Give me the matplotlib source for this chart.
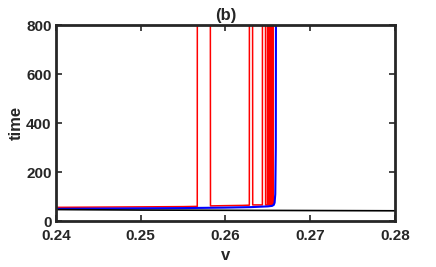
import numpy as np
import matplotlib.pyplot as plt

plt.rcParams['font.family'] = ['Liberation Sans', 'DejaVu Sans']
plt.rcParams['font.weight'] = 'bold'

# red curve: baseline with blow-ups (values above 800 are off-chart)
red_v = [0.2400, 0.2450, 0.2500, 0.2550, 0.25668, 0.25670,
         0.25820, 0.25824, 0.2600, 0.2620, 0.26282, 0.26284,
         0.26318, 0.26322, 0.26436, 0.26438, 0.26471, 0.26474,
         0.26496, 0.26498, 0.26505, 0.26507, 0.26513, 0.26515,
         0.26521, 0.26523, 0.26529, 0.26531, 0.26537, 0.26539,
         0.26545, 0.26547, 0.26553, 0.26555, 0.26561, 0.26563,
         0.26568]
red_t = [56, 57, 58, 59, 60, 2000,
         2000, 62, 63, 64, 65, 2000,
         2000, 66, 66, 2000, 2000, 66,
         66, 2000, 2000, 66, 66, 2000,
         2000, 66, 66, 2000, 2000, 66,
         66, 2000, 2000, 66, 66, 2000,
         2000]

blue_v = [0.2400, 0.2450, 0.2500, 0.2550, 0.2600, 0.2630, 0.2650,
          0.2655, 0.2657, 0.2658, 0.26588, 0.26594, 0.2660]
blue_t = [50, 51, 52, 53, 55, 57, 60, 62, 66, 75, 110, 300, 2000]

black_v = [0.2400, 0.2500, 0.2600, 0.2700, 0.2800]
black_t = [47, 45, 44, 43, 42]

fig = plt.figure(figsize=(4.36, 2.67), dpi=100)
ax = fig.add_axes([0.128, 0.172, 0.778, 0.734])
ax.plot(red_v, red_t, color='red', lw=1.1)
ax.plot(blue_v, blue_t, color='blue', lw=1.5)
ax.plot(black_v, black_t, color='black', lw=1.2)

ax.set_xlim(0.24, 0.28)
ax.set_ylim(0, 800)
ax.set_xticks([0.24, 0.25, 0.26, 0.27, 0.28])
ax.set_yticks([0, 200, 400, 600, 800])
ax.tick_params(direction='in', top=True, right=True, length=4, width=1.2,
               labelsize=11, color='#262626', labelcolor='#262626', pad=3)
ax.tick_params(axis='x', pad=6)
for s in ax.spines.values():
    s.set_linewidth(2)
    s.set_color('#262626')
ax.set_xlabel('v', fontsize=12, fontweight='bold', color='#262626', labelpad=3)
ax.set_ylabel('time', fontsize=12, fontweight='bold', color='#262626', labelpad=2)
ax.set_title('(b)', fontsize=12, fontweight='bold', color='#262626', pad=4)

fig.savefig('out.png', dpi=100)
